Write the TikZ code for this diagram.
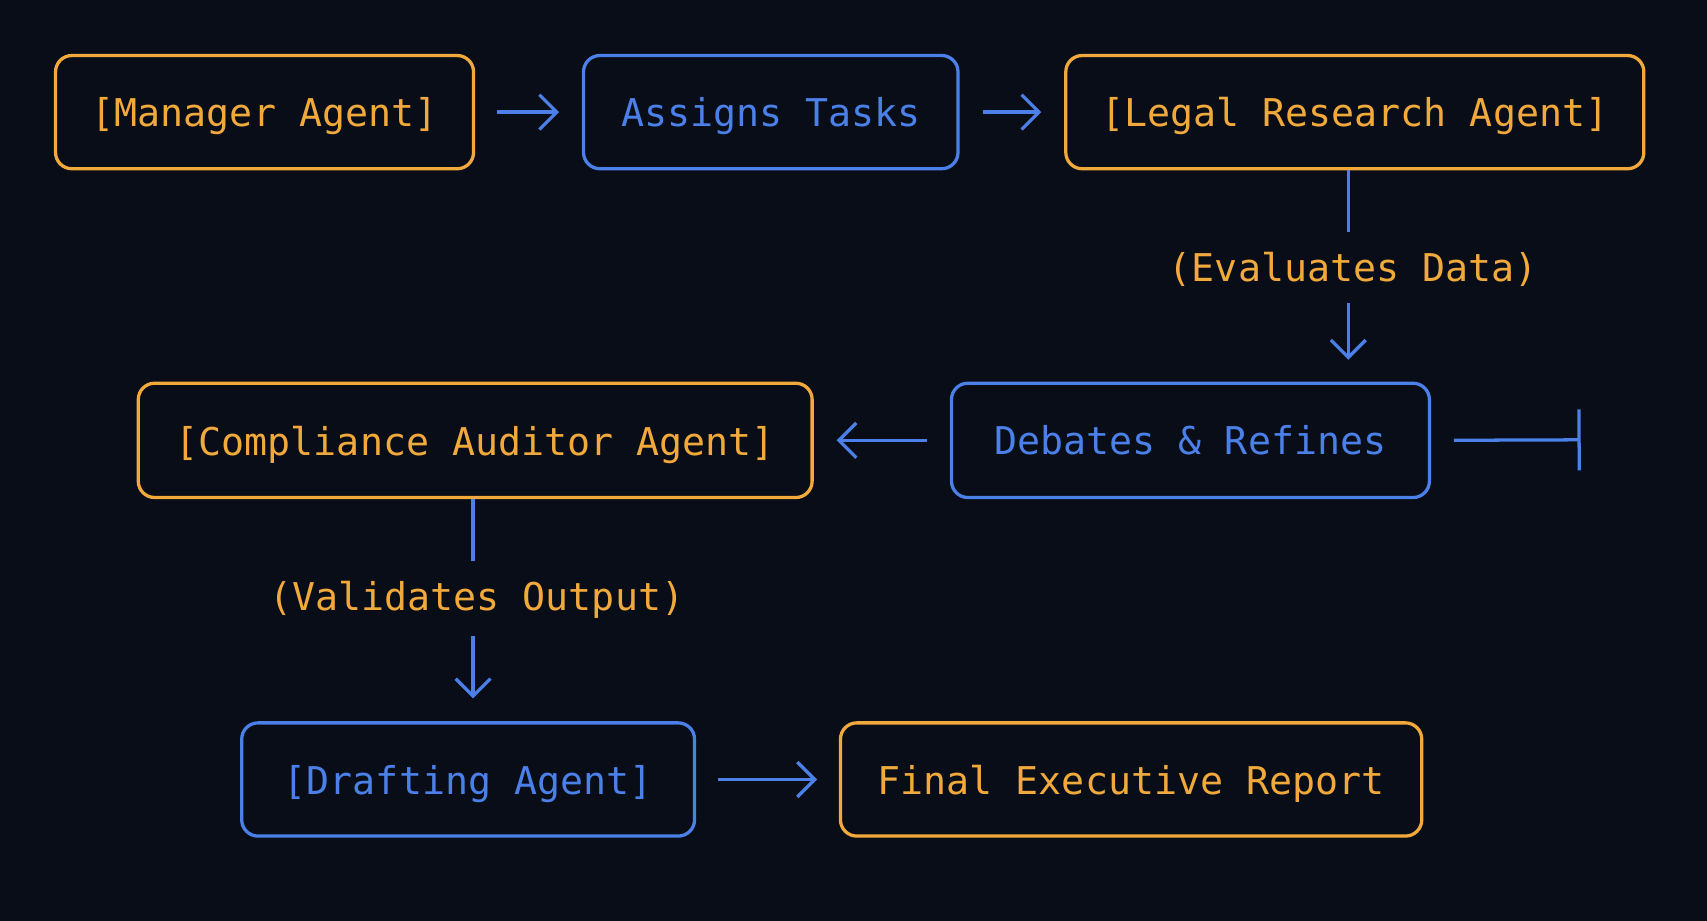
\documentclass[tikz,border=0pt]{standalone}
\usepackage{fontspec}
\setmonofont{DejaVu Sans Mono}
\usetikzlibrary{arrows.meta}
\definecolor{bg}{HTML}{080D18}
\definecolor{org}{HTML}{F2A93B}
\definecolor{blu}{HTML}{4A80E8}
\begin{document}
\begin{tikzpicture}[x=0.05cm,y=-0.05cm,
  box/.style={draw=#1,text=#1,line width=0.15cm,rounded corners=0.75cm,minimum height=5.2cm,inner sep=0pt,text depth=0pt,font=\ttfamily\fontsize{50}{58}\selectfont},
  lbl/.style={text=org,inner sep=0pt,text depth=0pt,font=\ttfamily\fontsize{50}{58}\selectfont},
  conn/.style={draw=blu,line width=0.15cm},
  arr/.style={conn,-{Straight Barb[length=0.8cm,width=1.6cm,line width=0.15cm]}}]
\fill[bg] (0,0) rectangle (1568,846);
\node[box=org,minimum width=19.2cm] (man) at (243,103) {[Manager Agent]};
\node[box=blu,minimum width=17.2cm] (ass) at (708,103) {Assigns Tasks};
\node[box=org,minimum width=26.55cm] (leg) at (1244.5,103) {[Legal Research Agent]};
\node[box=org,minimum width=30.95cm,minimum height=5.25cm] (com) at (436.5,404.5) {[Compliance Auditor Agent]};
\node[box=blu,minimum width=21.95cm,minimum height=5.25cm] (deb) at (1093.5,404.5) {Debates \& Refines};
\node[box=blu,minimum width=20.8cm] (dra) at (430,716) {[Drafting Agent]};
\node[box=org,minimum width=26.7cm] (fin) at (1039,716) {Final Executive Report};
\node[lbl] (ev) at (1243,245) {(Evaluates Data)};
\node[lbl] (va) at (438,547) {(Validates Output)};
\coordinate (bar) at (1452,404);
\draw[arr,shorten <=1cm,shorten >=1.05cm] (man.east) -- (ass.west);
\draw[arr,shorten <=1.05cm,shorten >=1.05cm] (ass.east) -- (leg.west);
\draw[conn,shorten >=0.9cm] ([xshift=-0.3cm]leg.south) -- ([xshift=-0.3cm]leg.south |- ev.north);
\draw[arr,shorten <=1cm,shorten >=1cm] ([xshift=-0.3cm]leg.south |- ev.south) -- ([xshift=-0.3cm]leg.south |- deb.north);
\draw[arr,shorten <=1.05cm,shorten >=1.05cm] (deb.west) -- (com.east);
\draw[conn,shorten <=1.05cm,-{Bar[width=2.8cm,line width=0.15cm]}] (deb.east) -- (bar);
\draw[conn,shorten >=0.9cm] ([xshift=-0.1cm]com.south) -- ([xshift=-0.1cm]com.south |- va.north);
\draw[arr,shorten <=1.2cm,shorten >=1.05cm] ([xshift=-0.1cm]com.south |- va.south) -- ([xshift=-0.1cm]com.south |- dra.north);
\draw[arr,shorten <=1cm,shorten >=1cm] (dra.east) -- (fin.west);
\end{tikzpicture}
\end{document}
